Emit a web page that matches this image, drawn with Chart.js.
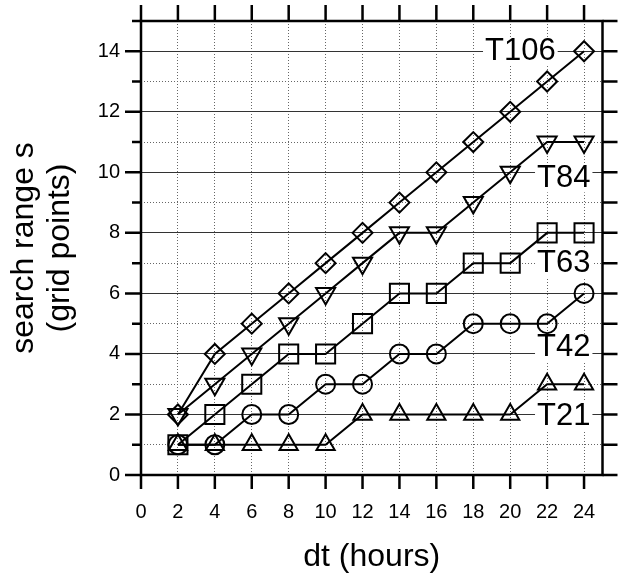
<!DOCTYPE html>
<html>
<head>
<meta charset="utf-8">
<script src="https://cdn.jsdelivr.net/npm/chart.js@4.4.0/dist/chart.umd.min.js"></script>
<style>
html,body{margin:0;padding:0;background:#fff;}
canvas{display:block;}
</style>
</head>
<body>
<canvas id="c" width="618" height="582"></canvas>
<script>
// ---- data ----
const dtHours = [2, 4, 6, 8, 10, 12, 14, 16, 18, 20, 22, 24];
const T106 = [2, 4, 5, 6, 7, 8, 9, 10, 11, 12, 13, 14];
const T84  = [2, 3, 4, 5, 6, 7, 8, 8, 9, 10, 11, 11];
const T63  = [1, 2, 3, 4, 4, 5, 6, 6, 7, 7, 8, 8];
const T42  = [1, 1, 2, 2, 3, 3, 4, 4, 5, 5, 5, 6];
const T21  = [1, 1, 1, 1, 1, 2, 2, 2, 2, 2, 3, 3];
const xTickValues = [0, 2, 4, 6, 8, 10, 12, 14, 16, 18, 20, 22, 24];
const yTickValues = [0, 1, 2, 3, 4, 5, 6, 7, 8, 9, 10, 11, 12, 13, 14, 15];
const seriesNames = ['T106', 'T84', 'T63', 'T42', 'T21'];
const seriesValues = [T106, T84, T63, T42, T21];
// label anchor positions (data units)
const labelAnchorX = [20.55, 22.9, 22.9, 22.9, 22.9];
const labelAnchorY = [14.0, 9.8, 7.0, 4.2, 1.95];

// ---- styles ----
const FONT = "'Liberation Sans', Arial, Helvetica, sans-serif";
const markerStyles = [
  { pointStyle: 'rectRot', radius: 10, rotation: 0 },
  { pointStyle: 'triangle', radius: 11, rotation: 180 },
  { pointStyle: 'rect', radius: 13.5, rotation: 0 },
  { pointStyle: 'circle', radius: 9.5, rotation: 0 },
  { pointStyle: 'triangle', radius: 10.5, rotation: 0 }
];

const datasets = seriesNames.map((name, i) => ({
  label: name,
  data: dtHours.map((x, j) => ({ x: x, y: seriesValues[i][j] })),
  borderColor: '#000',
  borderWidth: 2,
  tension: 0,
  pointStyle: markerStyles[i].pointStyle,
  pointRadius: markerStyles[i].radius,
  pointRotation: markerStyles[i].rotation,
  pointBorderColor: '#000',
  pointBorderWidth: 2,
  pointBackgroundColor: 'rgba(0,0,0,0)',
  clip: false
}));

const seriesLabels = {
  id: 'seriesLabels',
  beforeDatasetsDraw(chart) {
    const { ctx, scales: { x, y } } = chart;
    ctx.save();
    ctx.font = '31px ' + FONT;
    ctx.textAlign = 'center';
    ctx.textBaseline = 'middle';
    seriesNames.forEach((name, i) => {
      const px = x.getPixelForValue(labelAnchorX[i]);
      const py = y.getPixelForValue(labelAnchorY[i]);
      const w = ctx.measureText(name).width;
      ctx.fillStyle = '#fff';
      ctx.fillRect(px - w / 2 - 2, py - 14, w + 4, 28);
      ctx.fillStyle = '#000';
      ctx.fillText(name, px, py);
    });
    ctx.restore();
  }
};

const frameTicks = {
  id: 'frameTicks',
  afterDraw(chart) {
    const { ctx, chartArea: a, scales: { x, y } } = chart;
    ctx.save();
    ctx.strokeStyle = '#000';
    ctx.lineWidth = 2.5;
    ctx.strokeRect(a.left, a.top, a.right - a.left, a.bottom - a.top);
    ctx.beginPath();
    xTickValues.forEach(v => {
      const p = x.getPixelForValue(v);
      ctx.moveTo(p, a.bottom); ctx.lineTo(p, a.bottom + 14);
      ctx.moveTo(p, a.top); ctx.lineTo(p, a.top - 16);
    });
    yTickValues.forEach(v => {
      const p = y.getPixelForValue(v);
      const major = v % 2 === 0;
      ctx.moveTo(a.left, p); ctx.lineTo(a.left - (major ? 16 : 9), p);
      ctx.moveTo(a.right, p); ctx.lineTo(a.right + 15, p);
    });
    ctx.stroke();
    ctx.restore();
  }
};

new Chart(document.getElementById('c'), {
  type: 'line',
  data: { datasets: datasets },
  plugins: [seriesLabels, frameTicks],
  options: {
    responsive: false,
    animation: false,
    devicePixelRatio: 1,
    events: [],
    layout: { padding: { top: 21, right: 15, bottom: 0, left: 0 } },
    plugins: { legend: { display: false }, tooltip: { enabled: false }, title: { display: false } },
    scales: {
      x: {
        type: 'linear', min: 0, max: 25,
        afterBuildTicks: s => { s.ticks = xTickValues.map(v => ({ value: v })); },
        afterFit: s => { s.height = 107; },
        grid: { drawTicks: true, tickLength: 14, tickColor: 'rgba(0,0,0,0)', color: '#666', lineWidth: 1 },
        border: { display: false, dash: [1, 2] },
        ticks: { padding: 11, font: { size: 20, family: FONT }, color: '#000', maxRotation: 0, autoSkip: false, callback: v => String(v) },
        title: { display: true, text: 'dt (hours)', color: '#000', font: { size: 32, family: FONT, lineHeight: 1.1 }, padding: { top: 0, bottom: 7 } }
      },
      y: {
        type: 'linear', min: 0, max: 15,
        afterBuildTicks: s => { s.ticks = yTickValues.map(v => ({ value: v })); },
        afterFit: s => { s.width = 141; },
        grid: { drawTicks: true, tickLength: 16, tickColor: 'rgba(0,0,0,0)', lineWidth: 1, color: c => (c.tick && c.tick.value % 2 === 0) ? '#333' : '#666' },
        border: { display: false, dash: c => (c.tick && c.tick.value % 2 === 0) ? [] : [1, 2] },
        ticks: { padding: 5, font: { size: 20, family: FONT }, color: '#000', autoSkip: false, callback: v => (v % 2 === 0 ? String(v) : '') },
        title: { display: true, text: ['search range s', '(grid points)'], color: '#000', font: { size: 32, family: FONT, lineHeight: 1.1 }, padding: { top: 7, bottom: 0 } }
      }
    }
  }
});
</script>
</body>
</html>
